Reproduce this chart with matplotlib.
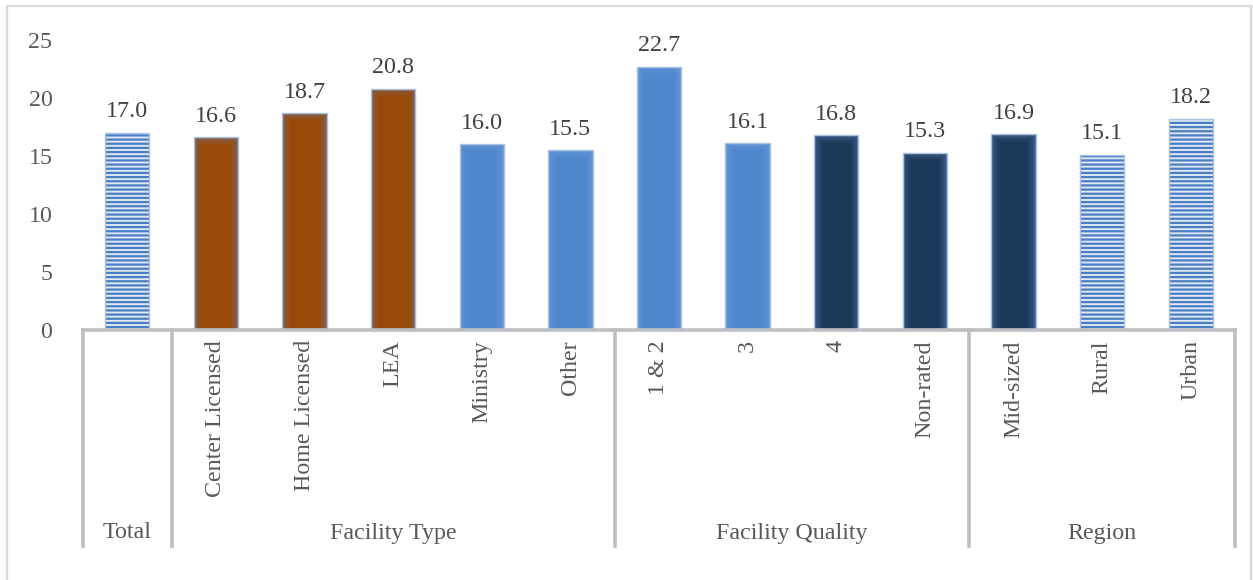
import numpy as np
import matplotlib
matplotlib.use("Agg")
from matplotlib import pyplot as plt
from matplotlib.colors import to_rgb
from matplotlib.patches import Rectangle
from matplotlib.lines import Line2D
import matplotlib.transforms as mtransforms

categories = ['', 'Center Licensed', 'Home Licensed', 'LEA', 'Ministry', 'Other',
              '1 & 2', '3', '4', 'Non-rated', 'Mid-sized', 'Rural', 'Urban']
values = [17.0, 16.6, 18.7, 20.8, 16.0, 15.5, 22.7, 16.1, 16.8, 15.3, 16.9, 15.1, 18.2]
styles = ['striped', 'brown', 'brown', 'brown', 'blue', 'blue', 'blue', 'blue',
          'navy', 'navy', 'navy', 'striped', 'striped']
groups = ['Total', 'Facility Type', 'Facility Quality', 'Region']
group_sizes = [1, 5, 4, 3]

plt.rcParams['font.family'] = ['Liberation Serif', 'DejaVu Serif']
plt.rcParams['hatch.linewidth'] = 1.6

text_col = '#595959'
grid_col = '#bfbfbf'
fs = 17.3

# (edge colour, centre colour) for the soft-edged fills
glow = {
    'brown': ('#7d6a6a', '#984808'),
    'navy': ('#4a6d9c', '#1c3859'),
    'blue': ('#6a9ad6', '#4f87cd'),
}

fig = plt.figure(figsize=(12.53, 5.8), dpi=100)
ax = fig.add_axes([83 / 1253, 1 - 330 / 580, (1235 - 83) / 1253, 290 / 580])

x = np.arange(len(values))
width = 0.5
n_layers = 10

for xi, v, st in zip(x, values, styles):
    if st == 'striped':
        ax.bar(xi, v, width, color='#dfe8f4', edgecolor='#4a7ec4',
               hatch='----', linewidth=0.0, zorder=2)
        ax.bar(xi, v, width, fill=False, edgecolor='#a9c1e3', linewidth=1.0, zorder=3)
    else:
        c0 = np.array(to_rgb(glow[st][0]))
        c1 = np.array(to_rgb(glow[st][1]))
        for i in range(n_layers):
            t = i / (n_layers - 1)
            col = c0 + (c1 - c0) * np.sqrt(t)
            ax.bar(xi, v - 0.7 * t, width * (1 - 0.38 * t), color=col,
                   linewidth=0, zorder=2 + i * 0.01)
        ax.bar(xi, v, width, fill=False, edgecolor='#a9c1e3', linewidth=1.0, zorder=3)
    ax.text(xi, v + 0.9, f'{v:.1f}', ha='center', va='bottom', fontsize=fs,
            color='#404040', clip_on=False)

ax.set_xlim(-0.5, len(values) - 0.5)
ax.set_ylim(0, 25)
ax.set_yticks(range(0, 26, 5))
ax.tick_params(axis='y', length=0, pad=22, labelsize=fs, labelcolor=text_col)
ax.set_xticks([])
for s in ['top', 'right', 'left']:
    ax.spines[s].set_visible(False)
ax.spines['bottom'].set_color(grid_col)
ax.spines['bottom'].set_linewidth(2.6)

trans = mtransforms.blended_transform_factory(ax.transData, ax.transAxes)

# rotated category names under the axis
for xi, lab in zip(x, categories):
    if lab:
        ax.text(xi, -0.035, lab, rotation=90, ha='center', va='top', fontsize=fs,
                color=text_col, transform=trans, clip_on=False)

# group separators and group names
edges = np.concatenate([[0], np.cumsum(group_sizes)]) - 0.5
for e in edges:
    ax.add_line(Line2D([e, e], [0, -0.745], transform=trans, color=grid_col,
                       linewidth=2.6, clip_on=False))
for g, a, b in zip(groups, edges[:-1], edges[1:]):
    ax.text((a + b) / 2, -0.70, g, ha='center', va='center', fontsize=fs,
            color=text_col, transform=trans, clip_on=False)

# outer chart frame
fig.patches.append(Rectangle((7 / 1253, -0.05), (1251 - 7) / 1253, 1.05 - 6 / 580,
                             transform=fig.transFigure, fill=False,
                             edgecolor='#d9d9d9', linewidth=1.6))

fig.savefig('out.png', dpi=100)
